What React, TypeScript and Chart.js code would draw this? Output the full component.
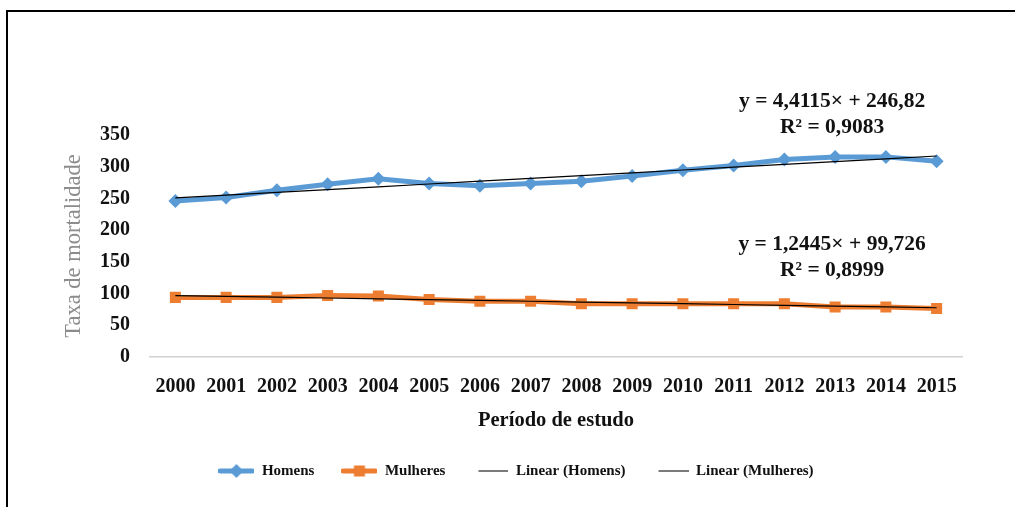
import React, { useEffect, useRef } from "react";
import { Chart, registerables } from "chart.js";

Chart.register(...registerables);

const years = ["2000", "2001", "2002", "2003", "2004", "2005", "2006", "2007", "2008", "2009", "2010", "2011", "2012", "2013", "2014", "2015"];
const homens = [246, 251.5, 263, 272.5, 281, 273.5, 270, 273.5, 277, 285.5, 294.5, 302, 311.5, 315.5, 315.5, 308.5];
const mulheres = [94, 94, 94, 97, 96, 90.5, 88, 88, 84, 84, 84, 84, 84, 79, 79, 76.4];
const yTicks = [0, 50, 100, 150, 200, 250, 300, 350];
const equationHomens = ["y = 4,4115× + 246,82", "R² = 0,9083"];
const equationMulheres = ["y = 1,2445× + 99,726", "R² = 0,8999"];
const legendLabels = ["Homens", "Mulheres", "Linear (Homens)", "Linear (Mulheres)"];

const BLUE = "#5B9BD5";
const ORANGE = "#ED7D31";
const FONT = "'Liberation Serif', 'Times New Roman', serif";

function linearFit(values: number[]): number[] {
  const n = values.length;
  const xs = values.map((_, i) => i + 1);
  const mx = xs.reduce((a, b) => a + b, 0) / n;
  const my = values.reduce((a, b) => a + b, 0) / n;
  let sxy = 0;
  let sxx = 0;
  for (let i = 0; i < n; i++) {
    sxy += (xs[i] - mx) * (values[i] - my);
    sxx += (xs[i] - mx) * (xs[i] - mx);
  }
  const b = sxy / sxx;
  const a = my - b * mx;
  return xs.map((x) => a + b * x);
}

function makeIcon(kind: "diamond" | "square" | "line", color: string): HTMLCanvasElement {
  const c = document.createElement("canvas");
  c.width = 36;
  c.height = 16;
  const ctx = c.getContext("2d")!;
  ctx.strokeStyle = color;
  ctx.fillStyle = color;
  if (kind === "line") {
    ctx.lineWidth = 1.2;
    ctx.beginPath();
    ctx.moveTo(6, 8);
    ctx.lineTo(36, 8);
    ctx.stroke();
    return c;
  }
  ctx.lineWidth = 5;
  ctx.lineCap = "round";
  ctx.beginPath();
  ctx.moveTo(2, 8);
  ctx.lineTo(34, 8);
  ctx.stroke();
  ctx.beginPath();
  if (kind === "diamond") {
    ctx.moveTo(18, 1);
    ctx.lineTo(25, 8);
    ctx.lineTo(18, 15);
    ctx.lineTo(11, 8);
    ctx.closePath();
  } else {
    ctx.rect(12.5, 2.5, 11, 11);
  }
  ctx.fill();
  return c;
}

const equationPlugin = {
  id: "equations",
  afterLayout(chart: any) {
    const lg = chart.legend;
    if (lg) {
      lg.left += 35;
      lg.right += 35;
    }
  },
  afterDatasetsDraw(chart: any) {
    const { ctx, scales } = chart;
    const x = scales.x.getPixelForValue(13) - 3;
    const drawLines = (lines: string[], vals: number[]) => {
      lines.forEach((t, i) => {
        ctx.fillText(t, x, scales.y.getPixelForValue(vals[i]));
      });
    };
    ctx.save();
    ctx.font = `bold 21.5px ${FONT}`;
    ctx.fillStyle = "#111";
    ctx.textAlign = "center";
    ctx.textBaseline = "middle";
    drawLines(equationHomens, [403, 362.5]);
    drawLines(equationMulheres, [177.5, 136.5]);
    ctx.restore();
  },
};

export default function App() {
  const ref = useRef<HTMLCanvasElement>(null);

  useEffect(() => {
    if (!ref.current) return;
    const icons = [
      makeIcon("diamond", BLUE),
      makeIcon("square", ORANGE),
      makeIcon("line", "#222"),
      makeIcon("line", "#222"),
    ];
    const chart = new Chart(ref.current, {
      type: "line",
      data: {
        labels: years,
        datasets: [
          {
            label: legendLabels[0],
            data: homens,
            borderColor: BLUE,
            backgroundColor: BLUE,
            borderWidth: 5,
            pointStyle: "rectRot",
            pointRadius: 7,
            pointBorderWidth: 0,
            pointBackgroundColor: BLUE,
            tension: 0,
            order: 1,
          },
          {
            label: legendLabels[1],
            data: mulheres,
            borderColor: ORANGE,
            backgroundColor: ORANGE,
            borderWidth: 5,
            pointStyle: "rect",
            pointRadius: 7.8,
            pointBorderWidth: 0,
            pointBackgroundColor: ORANGE,
            tension: 0,
            order: 1,
          },
          {
            label: legendLabels[2],
            data: linearFit(homens),
            borderColor: "#000",
            borderWidth: 1.2,
            pointRadius: 0,
            order: 0,
          },
          {
            label: legendLabels[3],
            data: linearFit(mulheres),
            borderColor: "#000",
            borderWidth: 1.2,
            pointRadius: 0,
            order: 0,
          },
        ],
      },
      options: {
        animation: false,
        responsive: false,
        events: [],
        layout: { padding: { top: 135, right: 53, bottom: 18.5, left: 0 } },
        plugins: {
          tooltip: { enabled: false },
          legend: {
            position: "bottom",
            labels: {
              usePointStyle: true,
              pointStyleWidth: 36,
              padding: 27,
              color: "#111",
              font: { family: FONT, size: 15, weight: "bold" },
              generateLabels: () =>
                legendLabels.map((text, i) => ({
                  text,
                  pointStyle: icons[i],
                  fillStyle: "transparent",
                  strokeStyle: "transparent",
                  lineWidth: 0,
                  hidden: false,
                  datasetIndex: i,
                  fontColor: "#111",
                })),
            },
          },
        },
        scales: {
          x: {
            offset: true,
            grid: { display: false },
            border: { display: true, color: "#d0d0d0", width: 1.5 },
            ticks: {
              color: "#111",
              padding: 10,
              maxRotation: 0,
              autoSkip: false,
              font: { family: FONT, size: 20, weight: "bold" },
            },
            title: {
              display: true,
              text: "Período de estudo",
              color: "#111",
              padding: { top: 6, bottom: 3 },
              font: { family: FONT, size: 20.5, weight: "bold" },
            },
            afterFit: (s: any) => {
              s.height = 79.5;
            },
          },
          y: {
            min: 0,
            max: 350,
            grid: { display: false },
            border: { display: false },
            afterBuildTicks: (s: any) => {
              s.ticks = yTicks.map((v) => ({ value: v }));
            },
            ticks: {
              color: "#111",
              padding: 12,
              font: { family: FONT, size: 20, weight: "bold" },
            },
            title: {
              display: true,
              text: "Taxa de mortalidade",
              color: "#8c8c8c",
              padding: { top: 61, bottom: 0 },
              font: { family: FONT, size: 22.5, weight: "normal" },
            },
            afterFit: (s: any) => {
              s.width = 150;
            },
          },
        },
      },
      plugins: [equationPlugin],
    } as any);
    return () => chart.destroy();
  }, []);

  return (
    <div style={{ position: "absolute", left: 0, top: 0, width: 1015, height: 507, background: "#fff" }}>
      <canvas ref={ref} width={1015} height={507} style={{ display: "block" }} />
      <div
        style={{
          position: "absolute",
          left: 6,
          top: 10,
          width: 1009,
          height: 497,
          borderTop: "2px solid #000",
          borderLeft: "2px solid #000",
          boxSizing: "border-box",
          pointerEvents: "none",
        }}
      />
    </div>
  );
}
